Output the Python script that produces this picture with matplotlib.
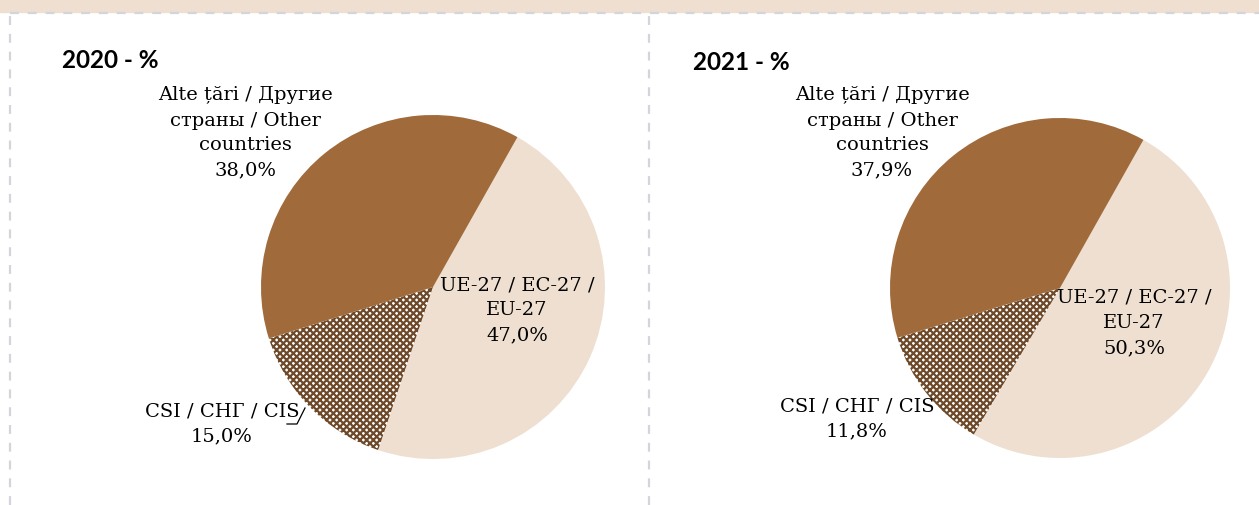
import matplotlib
matplotlib.use("Agg")
import matplotlib.pyplot as plt
from matplotlib.lines import Line2D

# Data
years = ["2020", "2021"]
labels_eu = "UE-27 / EC-27 /\nEU-27"
labels_cis = "CSI / СНГ / CIS"
labels_other = "Alte țări / Другие\nстраны / Other\ncountries"
share_eu = [47.0, 50.3]
share_cis = [15.0, 11.8]
share_other = [38.0, 37.9]

W, H = 1259, 505
plt.rcParams["hatch.linewidth"] = 1.6
plt.rcParams["hatch.color"] = "#6e4a2a"
fig = plt.figure(figsize=(W / 100, H / 100), dpi=100)

serif = ["DejaVu Serif"]
col_eu = "#eedfd0"
col_other = "#a06a3a"
col_cis = "white"

# background band and dashed frame
fig.patches.append(plt.Rectangle((0, 1 - 12 / H), 1, 12 / H, transform=fig.transFigure,
                                 color="#eedfd0", zorder=0))
dash = dict(color="#d4d4dc", lw=1.6, ls=(0, (4, 4)), transform=fig.transFigure)
fig.lines.append(Line2D([10 / W, 1], [1 - 13 / H] * 2, **dash))
fig.lines.append(Line2D([10 / W] * 2, [0, 1 - 13 / H], **dash))
fig.lines.append(Line2D([649 / W] * 2, [0, 1 - 13 / H], **dash))


def px(x, y):
    return x / W, 1 - y / H


pies = [
    dict(cx=433, cy=287, r=172, title=(62, 60),
         other=(245, 133), eu=(517, 310), cis=(222, 424), leader=True),
    dict(cx=1060, cy=288, r=170, title=(693, 62),
         other=(882, 133), eu=(1134, 323), cis=(857, 419), leader=False),
]

for i, p in enumerate(pies):
    cx, cy, r = p["cx"], p["cy"], p["r"]
    ax = fig.add_axes([(cx - r) / W, (H - cy - r) / H, 2 * r / W, 2 * r / H])
    vals = [share_eu[i], share_cis[i], share_other[i]]
    wedges, _ = ax.pie(vals, colors=[col_eu, col_cis, col_other], startangle=60.6,
                       counterclock=False, radius=1,
                       wedgeprops=dict(linewidth=0))
    wedges[1].set_hatch("xxxxx")
    wedges[1].set_edgecolor("#6e4a2a")
    wedges[1].set_linewidth(0)
    ax.set_xlim(-1, 1)
    ax.set_ylim(-1, 1)
    ax.set_aspect("equal")
    ax.axis("off")

    fig.text(*px(*p["title"]), f"{years[i]} - %", fontsize=17.5, fontweight="bold",
             family=["Lato", "DejaVu Sans"], ha="left", va="center")
    fs = 14
    ls = 1.5
    fig.text(*px(*p["other"]), f"{labels_other}\n{share_other[i]:.1f}%".replace(".", ","),
             fontsize=fs, family=serif, ha="center", va="center", linespacing=ls)
    fig.text(*px(*p["eu"]), f"{labels_eu}\n{share_eu[i]:.1f}%".replace(".", ","),
             fontsize=fs, family=serif, ha="center", va="center", linespacing=ls)
    fig.text(*px(*p["cis"]), f"{labels_cis}\n{share_cis[i]:.1f}%".replace(".", ","),
             fontsize=fs, family=serif, ha="center", va="center", linespacing=ls)
    if p["leader"]:
        xs = [287 / W, 297 / W, 305 / W]
        ys = [1 - 424 / H, 1 - 424 / H, 1 - 408 / H]
        fig.lines.append(Line2D(xs, ys, color="black", lw=0.9, transform=fig.transFigure))

fig.savefig("out.png", dpi=100, facecolor="white")
